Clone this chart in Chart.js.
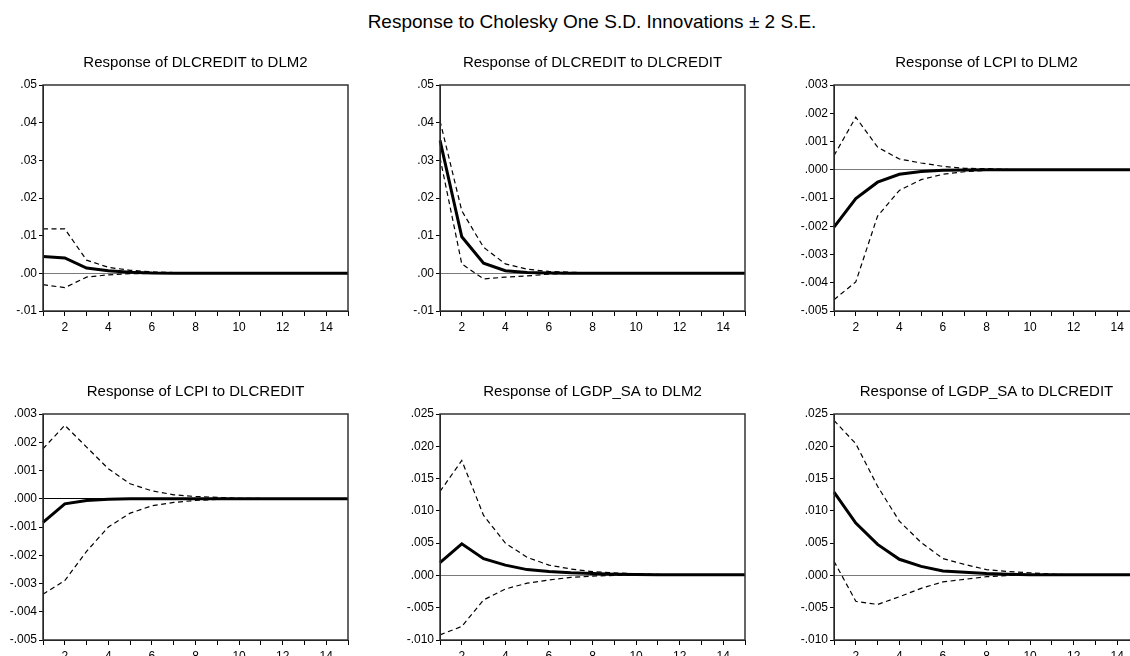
<!DOCTYPE html>
<html>
<head>
<meta charset="utf-8">
<script src="https://cdn.jsdelivr.net/npm/chart.js@4.4.1/dist/chart.umd.min.js"></script>
<style>
html,body{margin:0;padding:0;background:#fff;}
body{width:1130px;height:656px;overflow:hidden;position:relative;font-family:'Liberation Sans',Arial,sans-serif;}
#mainTitle{position:absolute;left:292px;top:11px;width:600px;text-align:center;font-size:19px;line-height:22px;color:#000;white-space:nowrap;}
.pc{position:absolute;}
</style>
</head>
<body>
<div id="mainTitle">Response to Cholesky One S.D. Innovations ± 2 S.E.</div>
<canvas id="c1" class="pc" width="391" height="291" style="left:0px;top:50px;width:391px;height:291px"></canvas>
<canvas id="c2" class="pc" width="391" height="291" style="left:397px;top:50px;width:391px;height:291px"></canvas>
<canvas id="c3" class="pc" width="391" height="291" style="left:791px;top:50px;width:391px;height:291px"></canvas>
<canvas id="c4" class="pc" width="391" height="291" style="left:0px;top:379px;width:391px;height:291px"></canvas>
<canvas id="c5" class="pc" width="391" height="291" style="left:397px;top:379px;width:391px;height:291px"></canvas>
<canvas id="c6" class="pc" width="391" height="291" style="left:791px;top:379px;width:391px;height:291px"></canvas>
<script>
// ---- data ----
const periods = [1,2,3,4,5,6,7,8,9,10,11,12,13,14,15];
const xTickLabels = ['2','4','6','8','10','12','14'];

const yLabelsCredit = ['-.01','.00','.01','.02','.03','.04','.05'];
const yLabelsCpi = ['-.005','-.004','-.003','-.002','-.001','.000','.001','.002','.003'];
const yLabelsGdp = ['-.010','-.005','.000','.005','.010','.015','.020','.025'];

const titles = [
  'Response of DLCREDIT to DLM2',
  'Response of DLCREDIT to DLCREDIT',
  'Response of LCPI to DLM2',
  'Response of LCPI to DLCREDIT',
  'Response of LGDP_SA to DLM2',
  'Response of LGDP_SA to DLCREDIT'
];

// DLCREDIT to DLM2
const resp1  = [0.0045, 0.0041, 0.0014, 0.0007, 0.0003, 0.0001, 0.00005, 0.00002, 0.00001, 0, 0, 0, 0, 0, 0];
const upper1 = [0.0118, 0.0118, 0.0035, 0.0016, 0.0008, 0.0004, 0.0002, 0.0001, 0.00005, 0.00002, 0.00001, 0, 0, 0, 0];
const lower1 = [-0.0030, -0.0038, -0.0010, -0.0004, -0.0001, -0.00003, -0.00001, 0, 0, 0, 0, 0, 0, 0, 0];
// DLCREDIT to DLCREDIT
const resp2  = [0.0353, 0.0097, 0.0027, 0.0007, 0.0002, 0.0001, 0.00003, 0.00001, 0, 0, 0, 0, 0, 0, 0];
const upper2 = [0.0405, 0.0166, 0.0069, 0.0025, 0.0011, 0.0005, 0.0003, 0.0001, 0.00005, 0.00002, 0.00001, 0, 0, 0, 0];
const lower2 = [0.0307, 0.0025, -0.0015, -0.0010, -0.0007, -0.0002, -0.00005, -0.00001, 0, 0, 0, 0, 0, 0, 0];
// LCPI to DLM2
const resp3  = [-0.00203, -0.00102, -0.00044, -0.00016, -0.00006, -0.00002, -0.00001, 0, 0, 0, 0, 0, 0, 0, 0];
const upper3 = [0.00050, 0.00186, 0.00080, 0.00038, 0.00024, 0.00012, 0.00005, 0.00004, 0.00001, 0, 0, 0, 0, 0, 0];
const lower3 = [-0.00460, -0.00397, -0.00164, -0.00073, -0.00035, -0.00016, -0.00007, -0.00002, -0.00001, 0, 0, 0, 0, 0, 0];
// LCPI to DLCREDIT
const resp4  = [-0.00084, -0.00018, -0.00006, -0.00002, 0, 0, 0, 0, 0, 0, 0, 0, 0, 0, 0];
const upper4 = [0.00177, 0.00260, 0.00183, 0.00106, 0.00053, 0.00028, 0.00014, 0.00008, 0.00005, 0.00002, 0.00001, 0, 0, 0, 0];
const lower4 = [-0.00338, -0.00290, -0.00186, -0.00100, -0.00051, -0.00025, -0.00013, -0.00006, -0.00002, -0.00001, 0, 0, 0, 0, 0];
// LGDP_SA to DLM2
const resp5  = [0.0020, 0.0049, 0.0026, 0.0016, 0.0009, 0.0006, 0.0004, 0.0003, 0.0002, 0.00015, 0.0001, 0.0001, 0.0001, 0.0001, 0.0001];
const upper5 = [0.0130, 0.0178, 0.0093, 0.0050, 0.0028, 0.0016, 0.0010, 0.0006, 0.0004, 0.00025, 0.00015, 0.0001, 0.0001, 0.0001, 0.0001];
const lower5 = [-0.0092, -0.0079, -0.0038, -0.0021, -0.0012, -0.0007, -0.0003, -0.0001, 0, 0, 0, 0, 0, 0, 0];
// LGDP_SA to DLCREDIT
const resp6  = [0.0129, 0.0081, 0.0048, 0.0025, 0.0014, 0.0007, 0.0005, 0.0003, 0.0002, 0.0001, 0.0001, 0.0001, 0.0001, 0.0001, 0.0001];
const upper6 = [0.0240, 0.0204, 0.0138, 0.0084, 0.0051, 0.0026, 0.0017, 0.0009, 0.0006, 0.0004, 0.0002, 0.0001, 0.0001, 0.0001, 0.0001];
const lower6 = [0.0022, -0.0040, -0.0045, -0.0033, -0.0020, -0.0010, -0.0006, -0.0002, 0, 0, 0, 0, 0, 0, 0];

// ---- drawing ----
const FONT = "'Liberation Sans', Arial, sans-serif";

const panels = [
  {id:'c1', title:titles[0], resp:resp1, upper:upper1, lower:lower1, yLabels:yLabelsCredit, zero:'#7a7a7a'},
  {id:'c2', title:titles[1], resp:resp2, upper:upper2, lower:lower2, yLabels:yLabelsCredit, zero:'#7a7a7a'},
  {id:'c3', title:titles[2], resp:resp3, upper:upper3, lower:lower3, yLabels:yLabelsCpi, zero:'#7a7a7a'},
  {id:'c4', title:titles[3], resp:resp4, upper:upper4, lower:lower4, yLabels:yLabelsCpi, zero:'#000000'},
  {id:'c5', title:titles[4], resp:resp5, upper:upper5, lower:lower5, yLabels:yLabelsGdp, zero:'#7a7a7a'},
  {id:'c6', title:titles[5], resp:resp6, upper:upper6, lower:lower6, yLabels:yLabelsGdp, zero:'#7a7a7a'}
];

const framePlugin = {
  id:'frame',
  afterDatasetsDraw(chart){
    const a = chart.chartArea, ctx = chart.ctx;
    ctx.save();
    ctx.strokeStyle = '#333';
    ctx.lineWidth = 1.5;
    ctx.strokeRect(a.left, a.top, a.right - a.left, a.bottom - a.top);
    ctx.restore();
  }
};

panels.forEach(p => {
  const yVals = p.yLabels.map(l => parseFloat(l));
  const dashed = {borderColor:'#000', borderWidth:1.2, borderDash:[5,3.5], pointRadius:0, tension:0, fill:false};
  new Chart(document.getElementById(p.id), {
    type:'line',
    data:{
      labels: periods.map(String),
      datasets:[
        Object.assign({data:p.upper}, dashed),
        Object.assign({data:p.lower}, dashed),
        {data:p.resp, borderColor:'#000', borderWidth:3, pointRadius:0, tension:0, fill:false}
      ]
    },
    options:{
      responsive:false, animation:false, devicePixelRatio:1,
      layout:{padding:{left:0, right:43, top:0, bottom:0}},
      plugins:{
        legend:{display:false}, tooltip:{enabled:false},
        title:{display:true, fullSize:false, text:p.title, color:'#000', font:{family:FONT, size:15, weight:'normal'}, padding:{top:4, bottom:13}}
      },
      scales:{
        x:{
          type:'category', offset:false,
          grid:{drawOnChartArea:false, drawTicks:true, tickLength:5, tickColor:'#000'},
          border:{display:true, color:'#000', width:1},
          ticks:{autoSkip:false, maxRotation:0, minRotation:0, color:'#000', padding:4,
                 font:{family:FONT, size:12},
                 callback:(v,i) => xTickLabels.includes(String(periods[i])) ? String(periods[i]) : ''},
          afterFit: s => { s.height = 30; }
        },
        y:{
          min: yVals[0], max: yVals[yVals.length-1],
          grid:{drawOnChartArea:true, drawTicks:true, tickLength:4, tickColor:'#000',
                color: c => (c.tick && Math.abs(c.tick.value) < 1e-12) ? p.zero : 'rgba(0,0,0,0)', lineWidth:1},
          border:{display:true, color:'#000', width:1},
          afterBuildTicks: s => { s.ticks = yVals.map(v => ({value:v})); },
          ticks:{autoSkip:false, color:'#000', padding:2, font:{family:FONT, size:12},
                 callback:(v,i) => p.yLabels[i]},
          afterFit: s => { s.width = 43; }
        }
      }
    },
    plugins:[framePlugin]
  });
});
</script>
</body>
</html>
